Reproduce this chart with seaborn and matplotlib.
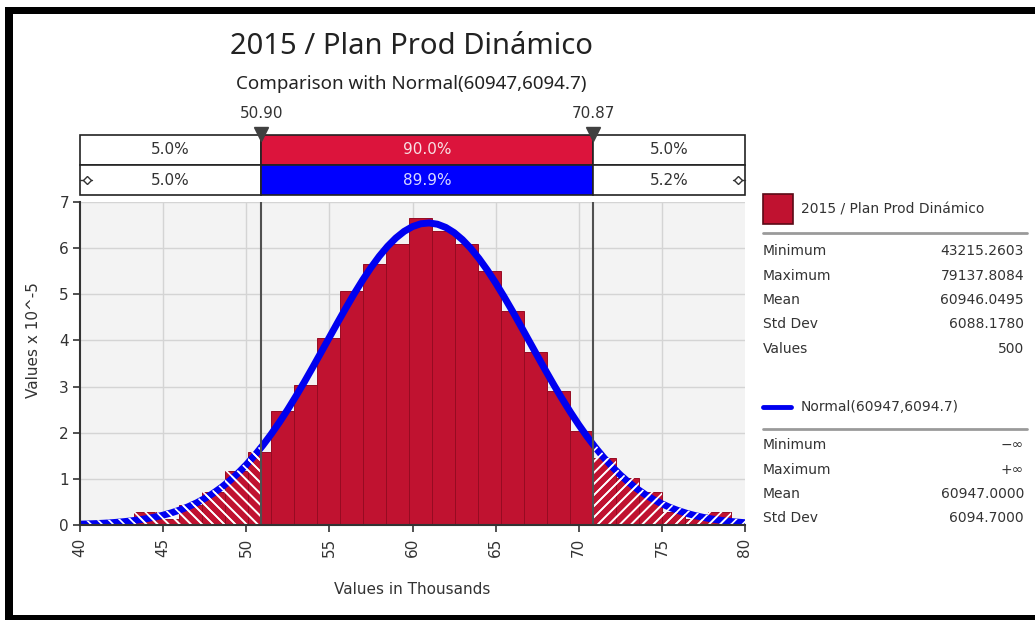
import numpy as np
import pandas as pd
import matplotlib
matplotlib.use("Agg")
import matplotlib.pyplot as plt
from matplotlib.patches import Rectangle
from matplotlib.lines import Line2D
import seaborn as sns

# ---------------- data ----------------
bin_edges = [43.22, 44.60, 45.98, 47.36, 48.74, 50.12, 51.51, 52.89, 54.27,
             55.65, 57.03, 58.41, 59.80, 61.18, 62.56, 63.94, 65.32, 66.70,
             68.09, 69.47, 70.85, 72.23, 73.61, 74.99, 76.37, 77.76, 79.14]
bin_heights = [0.29, 0.14, 0.43, 0.72, 1.16, 1.59, 2.46, 3.04, 4.05, 5.07,
               5.65, 6.08, 6.66, 6.37, 6.08, 5.50, 4.63, 3.76, 2.90, 2.03,
               1.45, 1.01, 0.72, 0.29, 0.14, 0.29]
curve_x = [40, 40.5, 41, 41.5, 42, 42.5, 43, 43.5, 44, 44.5, 45, 45.5, 46, 46.5,
           47, 47.5, 48, 48.5, 49, 49.5, 50, 50.5, 51, 51.5, 52, 52.5, 53, 53.5,
           54, 54.5, 55, 55.5, 56, 56.5, 57, 57.5, 58, 58.5, 59, 59.5, 60, 60.5,
           61, 61.5, 62, 62.5, 63, 63.5, 64, 64.5, 65, 65.5, 66, 66.5, 67, 67.5,
           68, 68.5, 69, 69.5, 70, 70.5, 71, 71.5, 72, 72.5, 73, 73.5, 74, 74.5,
           75, 75.5, 76, 76.5, 77, 77.5, 78, 78.5, 79, 79.5, 80]
curve_y = [0.018, 0.024, 0.031, 0.040, 0.052, 0.067, 0.086, 0.109, 0.137, 0.172,
           0.213, 0.264, 0.324, 0.394, 0.477, 0.574, 0.685, 0.813, 0.958, 1.122,
           1.305, 1.506, 1.728, 1.969, 2.229, 2.505, 2.798, 3.103, 3.419, 3.741,
           4.066, 4.390, 4.708, 5.016, 5.307, 5.578, 5.824, 6.039, 6.220, 6.364,
           6.467, 6.528, 6.546, 6.519, 6.449, 6.337, 6.185, 5.996, 5.774, 5.523,
           5.247, 4.952, 4.642, 4.322, 3.997, 3.672, 3.351, 3.037, 2.734, 2.445,
           2.172, 1.917, 1.680, 1.462, 1.264, 1.085, 0.926, 0.785, 0.660, 0.552,
           0.459, 0.378, 0.310, 0.252, 0.204, 0.164, 0.131, 0.103, 0.081, 0.064,
           0.049]
cut_low, cut_high = 50.90, 70.87
band_top = ["5.0%", "90.0%", "5.0%"]
band_bottom = ["5.0%", "89.9%", "5.2%"]
x_ticks = [40, 45, 50, 55, 60, 65, 70, 75, 80]
y_ticks = [0, 1, 2, 3, 4, 5, 6, 7]
title = "2015 / Plan Prod Dinámico"
subtitle = "Comparison with Normal(60947,6094.7)"
stats1_names = ["Minimum", "Maximum", "Mean", "Std Dev", "Values"]
stats1_vals = ["43215.2603", "79137.8084", "60946.0495", "6088.1780", "500"]
stats2_names = ["Minimum", "Maximum", "Mean", "Std Dev"]
stats2_vals = ["\u2212\u221e", "+\u221e", "60947.0000", "6094.7000"]

# ---------------- style ----------------
sns.set_style("white")
plt.rcParams["font.family"] = ["DejaVu Sans"]
plt.rcParams["hatch.linewidth"] = 1.2

W, H = 1035, 621
fig = plt.figure(figsize=(W / 100, H / 100), dpi=100)
fig.patch.set_facecolor("white")


def fx(px):
    return px / W


def fy(py):
    return 1 - py / H


RED = "#C01230"
BLUE = "#0000F0"
TXT = "#333333"

# ---------------- main axes ----------------
ax = fig.add_axes([fx(80), fy(525), fx(745) - fx(80), fy(202) - fy(525)])
ax.set_facecolor("#F3F3F3")
ax.set_xlim(40, 80)
ax.set_ylim(0, 7)
for v in y_ticks[1:]:
    ax.axhline(v, color="#D4D4D4", lw=1, zorder=0)
for v in x_ticks[1:-1]:
    ax.axvline(v, color="#D4D4D4", lw=1, zorder=0)

df = pd.DataFrame({"center": np.add(bin_edges[:-1], bin_edges[1:]) / 2,
                   "height": bin_heights})
sns.histplot(data=df, x="center", weights="height", bins=bin_edges, ax=ax,
             stat="count", color=RED, alpha=1, edgecolor="#960B22",
             linewidth=0.7, zorder=2)

sns.lineplot(x=curve_x, y=curve_y, ax=ax, color=BLUE, linewidth=5,
             estimator=None, zorder=4)

# hatched tails: bars in the tails
edges = np.array(bin_edges)
heights = np.array(bin_heights)
low_edges = list(edges[edges < cut_low]) + [cut_low]
low_h = list(heights[:len(low_edges) - 1])
hi_idx = np.searchsorted(edges, cut_high) - 1
high_edges = [cut_high] + list(edges[edges > cut_high])
high_h = list(heights[hi_idx:hi_idx + len(high_edges) - 1])
for e, h, hatch in [(low_edges, low_h, "\\\\\\"), (high_edges, high_h, "///")]:
    c = np.add(e[:-1], e[1:]) / 2
    sns.histplot(x=c, weights=h, bins=e, ax=ax, stat="count",
                 facecolor="none", edgecolor="white", hatch=hatch,
                 linewidth=0, zorder=6)

# hatched tails: area under the curve (incl. line thickness)
poly = ax.fill_between(curve_x, 0, np.array(curve_y) + 0.07,
                       facecolor="none", edgecolor="none", lw=0)
clip = poly.get_paths()[0]
for x0, x1, hatch in [(40, cut_low, "\\\\\\"), (cut_high, 80, "///")]:
    r = Rectangle((x0, 0), x1 - x0, 7, facecolor="none", edgecolor="white",
                  hatch=hatch, lw=0, zorder=6)
    ax.add_patch(r)
    r.set_clip_path(clip, ax.transData)

for c in (cut_low, cut_high):
    ax.axvline(c, color="#505050", lw=1.5, zorder=7)

ax.set_xticks(x_ticks)
ax.set_yticks(y_ticks)
ax.set_xticklabels([str(t) for t in x_ticks], rotation=90, fontsize=11,
                   color=TXT)
ax.set_yticklabels([str(t) for t in y_ticks], fontsize=11, color=TXT)
ax.tick_params(axis="both", length=5, width=1.2, color="#333333", pad=3,
               bottom=True, left=True)
ax.tick_params(axis="x", pad=4)
ax.set_xlabel("")
ax.set_ylabel("")
for s in ("top", "right"):
    ax.spines[s].set_visible(False)
for s in ("left", "bottom"):
    ax.spines[s].set_color("#333333")
    ax.spines[s].set_linewidth(1.5)
    ax.spines[s].set_zorder(8)

fig.text(fx(33), fy(340), "Values x 10^-5", rotation=90, ha="center",
         va="center", fontsize=11, color=TXT)
fig.text(fx(412), fy(590), "Values in Thousands", ha="center", va="center",
         fontsize=11, color=TXT)

# ---------------- band of percentages ----------------
axb = fig.add_axes([fx(80), fy(195), fx(745) - fx(80), fy(135) - fy(195)])
axb.set_xlim(40, 80)
axb.set_ylim(0, 2)
axb.axis("off")
segs = [(40, cut_low), (cut_low, cut_high), (cut_high, 80)]
for row, labels, mid_col, mid_txt in [(1, band_top, "#DC143C", "#F8E0E4"),
                                      (0, band_bottom, "#0000FF", "#D8D8FF")]:
    for i, (a, b) in enumerate(segs):
        fc = mid_col if i == 1 else "white"
        axb.add_patch(Rectangle((a, row), b - a, 1, facecolor=fc,
                                edgecolor="#222222", lw=1.2, clip_on=False))
        axb.text((a + b) / 2, row + 0.5, labels[i], ha="center", va="center",
                 fontsize=11, color=mid_txt if i == 1 else TXT)
for c, lab in [(cut_low, "50.90"), (cut_high, "70.87")]:
    axb.plot([c], [2.02], marker="v", ms=10, color="#404040", clip_on=False,
             zorder=5)
    axb.text(c, 2.72, lab, ha="center", va="center", fontsize=11, color=TXT,
             clip_on=False)
for xa, xb in [(40.0, 40.7), (79.3, 80.0)]:
    axb.plot([xa, xb], [0.5, 0.5], color="#333333", lw=1, clip_on=False)
axb.plot([40.45, 79.55], [0.5, 0.5], ls="none", marker="D", ms=4,
         mfc="white", mec="#333333", clip_on=False)

# ---------------- titles ----------------
fig.text(fx(411), fy(46), title, ha="center", va="center", fontsize=21,
         color="#222222", family=["Noto Sans", "DejaVu Sans"])
fig.text(fx(411), fy(84), subtitle, ha="center", va="center", fontsize=13.5,
         color="#222222", family=["Noto Sans", "DejaVu Sans"])

# ---------------- legend panel ----------------
LX, RX = 763, 1024
fig.add_artist(Rectangle((fx(LX), fy(224)), 30 / W, 30 / H, facecolor=RED,
                         edgecolor="#5A0A16", lw=1.2,
                         transform=fig.transFigure))
fig.text(fx(801), fy(210), title, ha="left", va="center", fontsize=10,
         color=TXT)
fig.add_artist(Line2D([fx(LX), fx(RX + 3)], [fy(233), fy(233)], color="#9A9A9A",
                      lw=2, transform=fig.transFigure))
sp = 24.5
for i, (n, v) in enumerate(zip(stats1_names, stats1_vals)):
    y = 251 + i * sp
    fig.text(fx(LX), fy(y), n, ha="left", va="center", fontsize=10, color=TXT)
    fig.text(fx(RX), fy(y), v, ha="right", va="center", fontsize=10, color=TXT)
fig.add_artist(Line2D([fx(LX), fx(LX + 28)], [fy(407), fy(407)], color=BLUE,
                      lw=3.5, transform=fig.transFigure))
fig.text(fx(801), fy(407), "Normal(60947,6094.7)", ha="left", va="center",
         fontsize=10, color=TXT)
fig.add_artist(Line2D([fx(LX), fx(RX + 3)], [fy(429), fy(429)], color="#9A9A9A",
                      lw=2, transform=fig.transFigure))
for i, (n, v) in enumerate(zip(stats2_names, stats2_vals)):
    y = 445 + i * sp
    fig.text(fx(LX), fy(y), n, ha="left", va="center", fontsize=10, color=TXT)
    fig.text(fx(RX), fy(y), v, ha="right", va="center", fontsize=10, color=TXT)

# ---------------- black frame ----------------
for (x0, y0, x1, y1) in [(5, 7, 1035, 14), (5, 7, 13, 620), (5, 615, 1035, 620)]:
    fig.add_artist(Rectangle((fx(x0), fy(y1)), (x1 - x0) / W, (y1 - y0) / H,
                             facecolor="black", edgecolor="none",
                             transform=fig.transFigure))

fig.savefig("out.png", dpi=100)
